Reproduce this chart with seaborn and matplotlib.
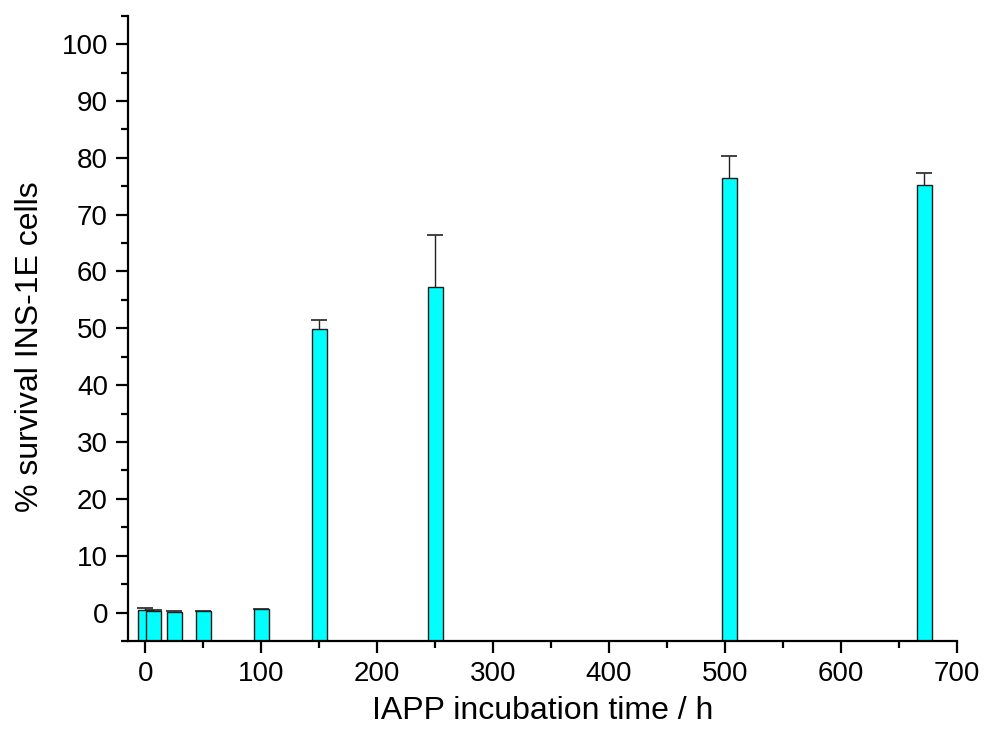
import numpy as np
import pandas as pd
import matplotlib
matplotlib.use("Agg")
import matplotlib.pyplot as plt
from matplotlib.ticker import MultipleLocator
import seaborn as sns

# Incubation times (h), mean survival (%) and upper error
time_h = [0, 7, 25, 50, 100, 150, 250, 504, 672]
survival = [0.53, 0.35, 0.18, 0.28, 0.58, 49.8, 57.3, 76.5, 75.2]
err_up = [0.35, 0.05, 0.05, 0.05, 0.12, 1.6, 9.2, 3.9, 2.2]

df = pd.DataFrame({"time": time_h, "survival": survival})

sns.set_theme(style="ticks")
plt.rcParams["font.family"] = ["Liberation Sans", "DejaVu Sans"]
plt.rcParams["text.color"] = "black"
plt.rcParams["axes.labelcolor"] = "black"

fig = plt.figure(figsize=(9.84, 7.4), dpi=100)
ax = fig.add_axes([0.1301, 0.1338, 0.9722 - 0.1301, 0.9788 - 0.1338])

Y_MIN, Y_MAX = -5, 105

bar_w = 13.0
min_gap = np.min(np.diff(sorted(time_h)))
sns.barplot(data=df, x="time", y="survival", native_scale=True,
            width=bar_w / min_gap, errorbar=None, color="#00FFFF",
            saturation=1, edgecolor="#1a1a1a", linewidth=1.0, ax=ax)

# bars rise from the bottom of the axis frame
for p in ax.patches:
    top = p.get_y() + p.get_height()
    p.set_y(Y_MIN)
    p.set_height(top - Y_MIN)

# upward-only error bars
eb = ax.errorbar(time_h, survival, yerr=[np.zeros(len(err_up)), err_up],
                 fmt="none", ecolor="#222222", elinewidth=1.0,
                 capsize=6, capthick=1.2, zorder=3)
eb[1][0].set_visible(False)

ax.set_xlim(-15, 700)
ax.set_ylim(Y_MIN, Y_MAX)
ax.xaxis.set_major_locator(MultipleLocator(100))
ax.xaxis.set_minor_locator(MultipleLocator(50))
ax.yaxis.set_major_locator(MultipleLocator(10))
ax.yaxis.set_minor_locator(MultipleLocator(5))
ax.set_yticks(np.arange(0, 101, 10))
ax.set_yticklabels([str(v) for v in range(0, 101, 10)])
ax.set_xticks(np.arange(0, 701, 100))
ax.set_xticklabels([str(v) for v in range(0, 701, 100)])

for side in ("top", "right"):
    ax.spines[side].set_visible(False)
for side in ("left", "bottom"):
    ax.spines[side].set_linewidth(1.6)
    ax.spines[side].set_color("black")

ax.tick_params(which="major", direction="out", length=8.5, width=1.6,
               labelsize=20, colors="black", pad=6)
ax.tick_params(which="minor", direction="out", length=5, width=1.6,
               colors="black")

ax.set_xlabel("IAPP incubation time / h", fontsize=23, va="center")
ax.set_ylabel("% survival INS-1E cells", fontsize=23, va="center")
ax.xaxis.set_label_coords(0.5, -0.112)
ax.yaxis.set_label_coords(-0.118, 0.470)
ax.set_facecolor("white")
fig.patch.set_facecolor("white")

fig.savefig("out.png", dpi=100)
